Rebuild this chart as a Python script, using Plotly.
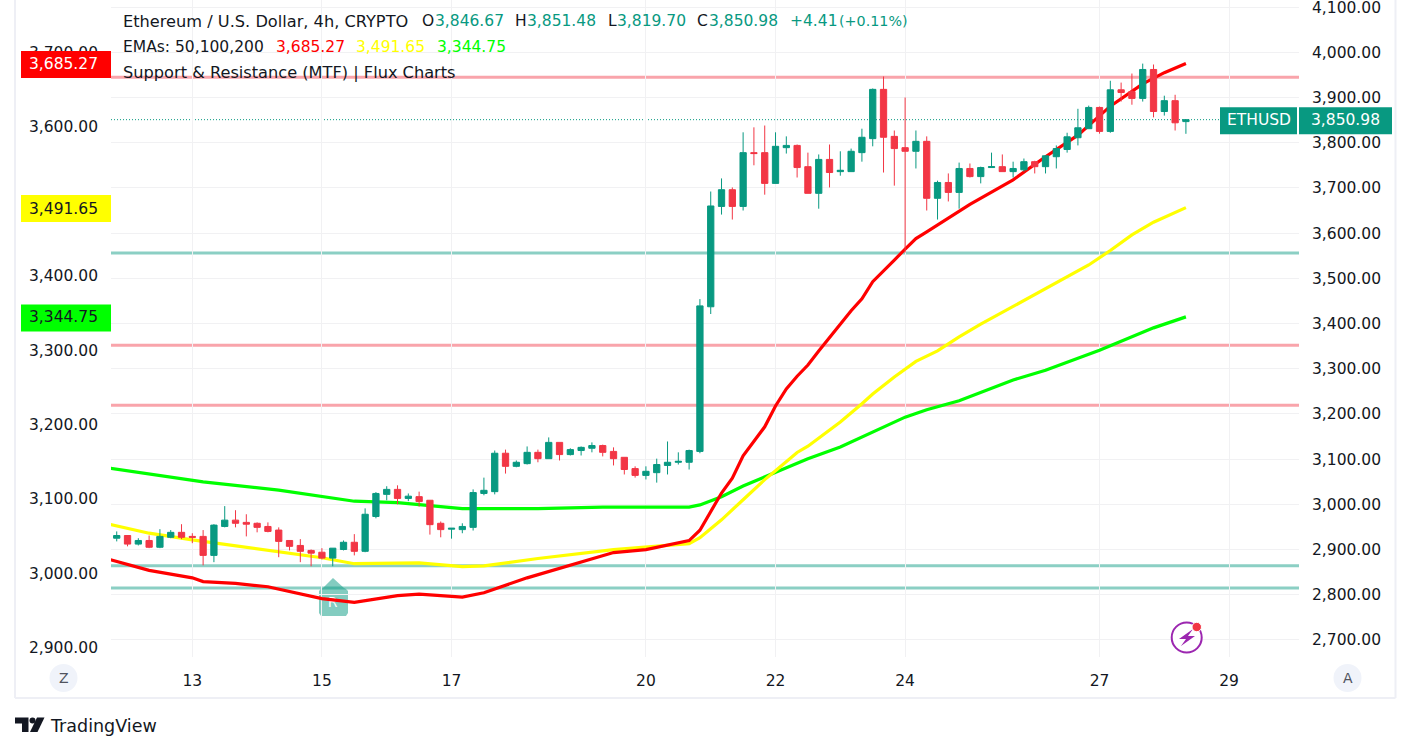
import pandas as pd
import plotly.graph_objects as go

# ETHUSD 4h candles
opens = [2925, 2931, 2912, 2920, 2905, 2927, 2938, 2929, 2929, 2887,
         2951, 2965, 2960, 2958, 2951, 2943, 2920, 2909, 2898, 2894,
         2881, 2900, 2916, 2896, 2973, 3022, 3033, 3013, 3017, 3009,
         2958, 2945, 2944, 2949, 3024, 3028, 3113, 3084, 3090, 3115,
         3101, 3137, 3110, 3119, 3124, 3130, 3117, 3104, 3079, 3064,
         3070, 3086, 3093, 3093, 3117, 3437, 3659, 3696, 3659, 3778,
         3778, 3710, 3789, 3794, 3747, 3688, 3763, 3736, 3736, 3778,
         3809, 3918, 3814, 3789, 3781, 3803, 3677, 3712, 3690, 3743,
         3725, 3745, 3747, 3736, 3740, 3758, 3747, 3769, 3785, 3811,
         3831, 3878, 3825, 3917, 3913, 3898, 3962, 3869, 3893, 3846.67]
highs = [2940, 2931, 2925, 2931, 2945, 2943, 2956, 2936, 2943, 2956,
         2996, 2987, 2978, 2960, 2960, 2949, 2920, 2923, 2900, 2903,
         2903, 2920, 2934, 2991, 3027, 3040, 3042, 3024, 3028, 3009,
         2962, 2947, 2958, 3033, 3059, 3119, 3121, 3097, 3128, 3121,
         3148, 3137, 3124, 3128, 3137, 3132, 3126, 3104, 3084, 3084,
         3101, 3139, 3115, 3121, 3454, 3692, 3721, 3701, 3823, 3834,
         3838, 3823, 3814, 3796, 3778, 3774, 3796, 3781, 3787, 3831,
         3920, 3946.5, 3827, 3900, 3827, 3814, 3716, 3732, 3756, 3754,
         3747, 3778, 3774, 3758, 3765, 3760, 3771, 3794, 3822, 3875,
         3882, 3880, 3937, 3933, 3953, 3975, 3973, 3904, 3906, 3851.48]
lows = [2918, 2907, 2909, 2903, 2903, 2925, 2923, 2914, 2865, 2872,
        2949, 2949, 2929, 2938, 2938, 2883, 2898, 2872, 2863, 2878,
        2863, 2898, 2887, 2894, 2969, 3009, 3000, 3007, 2995, 2933,
        2927, 2924, 2936, 2942, 3020, 3022, 3068, 3082, 3088, 3093,
        3101, 3097, 3108, 3108, 3115, 3106, 3086, 3066, 3059, 3055,
        3048, 3066, 3088, 3077, 3113, 3421, 3641, 3630, 3650, 3750,
        3685, 3710, 3776, 3723, 3688, 3654, 3701, 3727, 3736, 3758,
        3792, 3734, 3705, 3557, 3743, 3650, 3630, 3670, 3654, 3723,
        3710, 3745, 3736, 3723, 3736, 3732, 3732, 3743, 3778, 3794,
        3831, 3820, 3822, 3891, 3884, 3891, 3856, 3860, 3827, 3819.70]
closes = [2931, 2912, 2920, 2905, 2929, 2938, 2927, 2927, 2887, 2954,
          2965, 2958, 2956, 2949, 2940, 2918, 2907, 2896, 2892, 2881,
          2903, 2916, 2896, 2978, 3024, 3033, 3013, 3018, 3006, 2955,
          2944, 2947, 2951, 3026, 3031, 3113, 3084, 3093, 3115, 3101,
          3137, 3110, 3121, 3126, 3130, 3115, 3101, 3077, 3064, 3073,
          3088, 3093, 3095, 3119, 3439, 3660, 3696, 3659, 3778, 3776,
          3710, 3792, 3794, 3745, 3688, 3763, 3734, 3739, 3781, 3812,
          3918, 3812, 3787, 3781, 3803, 3677, 3712, 3690, 3743, 3725,
          3745, 3747, 3736, 3743, 3758, 3747, 3771, 3787, 3813, 3833,
          3878, 3825, 3917, 3911, 3898, 3962, 3869, 3893, 3844, 3850.98]

# EMAs sit on the left scale, values read at these bars
ema50_bars = [-1, 3, 7, 8, 11, 14, 19, 22, 26, 28, 32, 34, 38, 41, 46, 49, 53, 54, 55, 56, 57, 58,
              60, 61, 62, 63, 64, 65, 68, 69, 70, 71, 72, 73, 74, 75, 77, 79, 83, 86, 89, 92, 95, 97, 99]
ema50 = [3020, 3004, 2994, 2989, 2986.5, 2982, 2966, 2961, 2970, 2972, 2968, 2974, 2994, 3007, 3028,
         3032, 3044, 3058, 3083, 3108, 3128, 3158, 3197, 3225, 3248, 3265, 3280, 3299, 3353, 3369,
         3392, 3406, 3421, 3436, 3450, 3459, 3478, 3496, 3529, 3560, 3589, 3628, 3658, 3673, 3685.27]
ema100_bars = [-1, 3, 7, 12, 15, 19, 22, 26, 28, 32, 34, 39, 46, 53, 54, 55, 56, 58, 60, 61, 63, 64,
               67, 69, 70, 72, 74, 76, 78, 80, 84, 87, 90, 92, 94, 96, 99]
ema100 = [3067, 3054, 3045, 3035, 3029.5, 3021, 3013, 3014, 3014, 3009, 3010, 3020, 3032, 3040, 3048,
          3060, 3072, 3099, 3126, 3138, 3162.5, 3171, 3203.5, 3228, 3241, 3264, 3285, 3299, 3318,
          3335, 3367, 3390, 3414.5, 3434, 3455, 3472, 3491.65]
ema200_bars = [-1, 3, 8, 15, 22, 26, 29, 32, 34, 39, 45, 53, 54, 56, 58, 61, 63, 64, 67, 69, 71, 73,
               75, 78, 83, 86, 91, 93, 96, 99]
ema200 = [3142, 3134, 3123, 3112, 3097, 3095, 3091, 3087, 3087, 3087, 3089, 3089, 3092, 3103, 3117.5,
          3136, 3148, 3154, 3170, 3183, 3197, 3210, 3220, 3232, 3260, 3273, 3300, 3312, 3330, 3344.75]

resistance = [3945, 3352, 3219]
support = [3556, 2864, 2815]

left_ticks = [2900, 3000, 3100, 3200, 3300, 3400, 3500, 3600, 3700]
right_ticks = [2700, 2800, 2900, 3000, 3100, 3200, 3300, 3400, 3500, 3600, 3700, 3800, 3900, 4000, 4100]
day_bars = [7, 19, 31, 49, 61, 73, 91, 103]
day_labels = ["13", "15", "17", "20", "22", "24", "27", "29"]
r_bar = 20

W, H = 1410, 752
FONT = "DejaVu Sans"
FS = 15.5
FS_WORDS = 16.2
INK = "#131722"
UP = "#089981"
DOWN = "#f23645"
GRID = "#f1f1f3"
BORDER = "#eeeff5"

t0 = pd.Timestamp("2024-05-11 20:00")


def bar_time(k):
    return t0 + pd.Timedelta(hours=4) * k


def px(x):
    return x / W


def py(y):
    return 1 - y / H


def poly(points):
    return "M" + " L".join(f"{px(x):.5f},{py(y):.5f}" for x, y in points) + " Z"


fig = go.Figure()

fig.add_trace(go.Scatter(x=[bar_time(r_bar)], y=[2959], mode="text", text=["R"],
                         textfont=dict(family=FONT, size=14, color="white"), yaxis="y"))
for bars, vals, col in [(ema200_bars, ema200, "#00ff00"),
                        (ema100_bars, ema100, "#ffff00"),
                        (ema50_bars, ema50, "#ff0000")]:
    fig.add_trace(go.Scatter(x=[bar_time(k) for k in bars], y=vals, mode="lines",
                             line=dict(color=col, width=3.2), yaxis="y"))

fig.add_trace(go.Candlestick(
    x=[bar_time(k) for k in range(len(opens))],
    open=opens, high=highs, low=lows, close=closes, yaxis="y2",
    increasing=dict(line=dict(color=UP, width=1), fillcolor=UP),
    decreasing=dict(line=dict(color=DOWN, width=1), fillcolor=DOWN),
    whiskerwidth=0))

shapes = []
for lvl in resistance:
    shapes.append(dict(type="line", xref="x domain", yref="y2", x0=0, x1=1, y0=lvl, y1=lvl, layer="below",
                       line=dict(color="rgba(242,54,69,0.45)", width=3)))
for lvl in support:
    shapes.append(dict(type="line", xref="x domain", yref="y2", x0=0, x1=1, y0=lvl, y1=lvl, layer="below",
                       line=dict(color="rgba(8,153,129,0.47)", width=3)))
shapes.append(dict(type="line", xref="x domain", yref="y2", x0=0, x1=1, y0=closes[-1], y1=closes[-1], layer="below",
                   line=dict(color=UP, width=1, dash="1px,2px")))

# R marker under the bar
shapes.append(dict(type="path", xref="paper", yref="paper", layer="below", line_width=0,
                   fillcolor="rgba(8,153,129,0.5)",
                   path=poly([(333, 578), (344, 588), (346, 589), (348, 591), (348, 613), (346, 616),
                              (321, 616), (319, 613), (319, 591), (321, 589), (323, 588)])))


def tag(x0, x1, level, col, yref):
    shapes.append(dict(type="rect", xref="paper", yref=yref, xsizemode="scaled", ysizemode="pixel",
                       yanchor=level, x0=px(x0), x1=px(x1), y0=-14.5, y1=12.5,
                       fillcolor=col, line_width=0))


tag(21, 111, ema50[-1], "#ff0000", "y")
tag(21, 111, ema100[-1], "#ffff00", "y")
tag(21, 111, ema200[-1], "#00ff00", "y")
tag(1220, 1297, closes[-1], UP, "y2")
tag(1299, 1392, closes[-1], UP, "y2")

# frame
for x0, y0, x1, y1 in [(15, 0, 15, 698), (15, 698, 1395.5, 698), (1395.5, 0, 1395.5, 698)]:
    shapes.append(dict(type="line", xref="paper", yref="paper", x0=px(x0), x1=px(x1), y0=py(y0), y1=py(y1),
                       line=dict(color=BORDER, width=2)))

# Z and A buttons
for cx in (63.5, 1347.5):
    shapes.append(dict(type="circle", xref="paper", yref="paper", x0=px(cx - 14), x1=px(cx + 14),
                       y0=py(678 + 14), y1=py(678 - 14), fillcolor="#f0f3fa", line_width=0))

# flash icon
PURPLE = "#9c27b0"
shapes.append(dict(type="circle", xref="paper", yref="paper", x0=px(1171.7), x1=px(1201.7),
                   y0=py(652.5), y1=py(622.5), fillcolor="white", line=dict(color=PURPLE, width=2)))
shapes.append(dict(type="path", xref="paper", yref="paper", line_width=0, fillcolor=PURPLE,
                   path=poly([(1193, 629), (1179, 639), (1186, 639), (1181, 646), (1195, 636), (1188, 636)])))
shapes.append(dict(type="circle", xref="paper", yref="paper", x0=px(1192), x1=px(1201.5),
                   y0=py(631.7), y1=py(622.3), fillcolor=DOWN, line=dict(color="white", width=1)))

# TradingView logo
for pts in [[(15, 717.5), (28.5, 717.5), (28.5, 732), (22, 732), (22, 723.5), (15, 723.5)],
            [(37, 717.5), (44.5, 717.5), (37.5, 732), (30, 732)]]:
    shapes.append(dict(type="path", xref="paper", yref="paper", line_width=0, fillcolor=INK, path=poly(pts)))
shapes.append(dict(type="circle", xref="paper", yref="paper", x0=px(29.5), x1=px(35.5),
                   y0=py(723.5), y1=py(717.5), fillcolor=INK, line_width=0))

annotations = []


def label(x, y, text, col=INK, size=FS, anchor="left"):
    annotations.append(dict(xref="paper", yref="paper", x=px(x), y=py(y), text=text, showarrow=False,
                            xanchor=anchor, yanchor="middle", borderpad=0,
                            font=dict(family=FONT, size=size, color=col)))


label(122, 21, "Ethereum / U.S. Dollar, 4h, CRYPTO", size=FS_WORDS)
for x, t, col in [(421, "O", INK), (434, f"{opens[-1]:,.2f}", UP),
                  (514, "H", INK), (526, f"{highs[-1]:,.2f}", UP),
                  (607, "L", INK), (616, f"{lows[-1]:,.2f}", UP),
                  (696, "C", INK), (708, f"{closes[-1]:,.2f}", UP),
                  (789, "+4.41", UP)]:
    label(x, 21, t, col)
label(838, 21, "(+0.11%)", UP, 14.3)
label(122, 47, "EMAs: 50,100,200")
label(275, 47, f"{ema50[-1]:,.2f}", "#ff0000")
label(355, 47, f"{ema100[-1]:,.2f}", "#ffff00")
label(436, 47, f"{ema200[-1]:,.2f}", "#00ff00")
label(122, 73, "Support &amp; Resistance (MTF) | Flux Charts", size=FS_WORDS)
label(63.5, 64, f"{ema50[-1]:,.2f}", "white", anchor="center")
label(63.5, 208.5, f"{ema100[-1]:,.2f}", INK, anchor="center")
label(63.5, 317, f"{ema200[-1]:,.2f}", INK, anchor="center")
label(1258.5, 120.5, "ETHUSD", "white", anchor="center")
label(1345.5, 120.5, f"{closes[-1]:,.2f}", "white", anchor="center")
label(63.5, 678, "Z", "#50535e", 14, "center")
label(1347.5, 678, "A", "#50535e", 14, "center")
label(49, 726, "TradingView", INK, 17.5)

fig.update_layout(
    width=W, height=H, margin=dict(l=0, r=0, t=0, b=0),
    paper_bgcolor="white", plot_bgcolor="white",
    showlegend=False, boxgap=0.17, hovermode=False,
    font=dict(family=FONT, size=FS, color=INK),
    shapes=shapes, annotations=annotations,
    xaxis=dict(domain=[px(111), px(1299)], type="date",
               range=[bar_time(-0.53), bar_time(109.47)],
               tickmode="array", tickvals=[bar_time(k) for k in day_bars], ticktext=day_labels,
               showgrid=True, gridcolor=GRID, gridwidth=1, zeroline=False, showline=False,
               ticks="", ticklabelstandoff=12, rangeslider=dict(visible=False)),
    yaxis=dict(domain=[py(657), 1], side="left", range=[2887.6, 3770.7],
               tickmode="array", tickvals=left_ticks, tickformat=",.2f",
               showgrid=False, zeroline=False, showline=False, ticks="", ticklabelstandoff=12,
               ticklabeloverflow="allow"),
    yaxis2=dict(domain=[py(657), 1], side="right", overlaying="y", range=[2662.2, 4115.7],
                tickmode="array", tickvals=right_ticks, tickformat=",.2f",
                showgrid=True, gridcolor=GRID, gridwidth=1, zeroline=False, showline=False,
                ticks="", ticklabelstandoff=12, ticklabeloverflow="allow"),
)

fig.write_html("out.html", config=dict(displayModeBar=False),
               post_script="document.body.style.margin='0';document.body.style.overflow='hidden';")
